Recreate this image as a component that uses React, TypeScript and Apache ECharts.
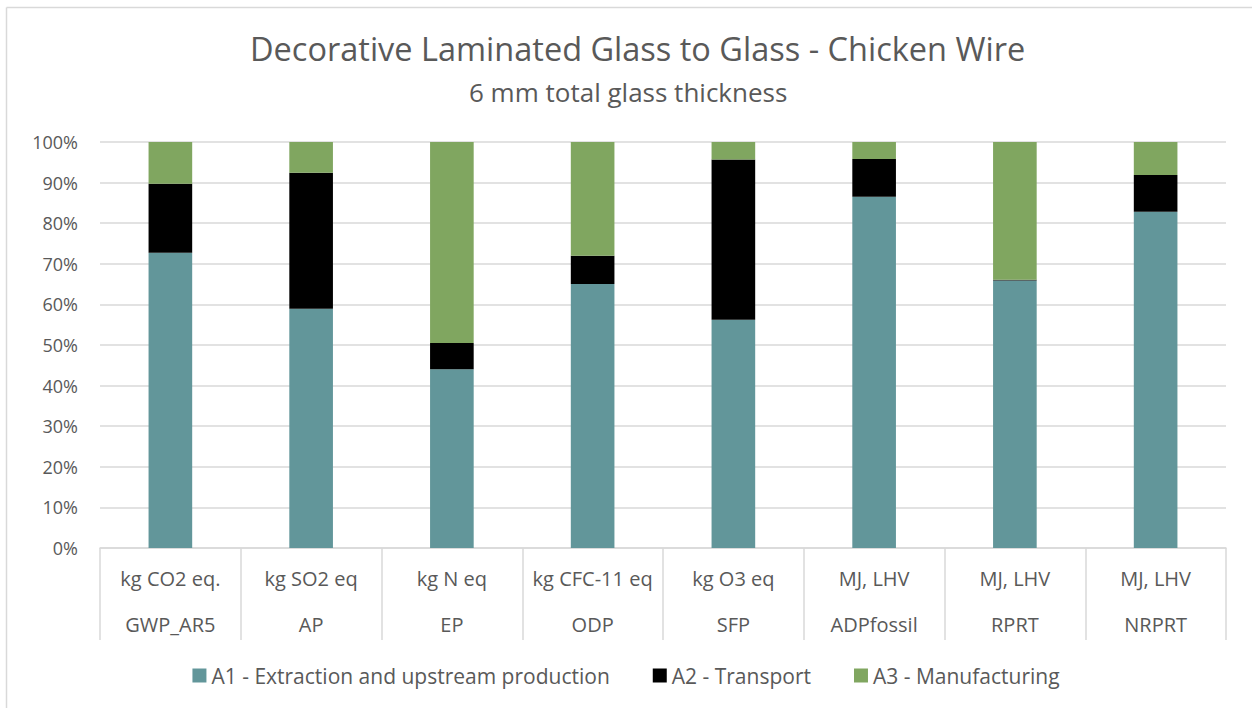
import React, { useEffect, useRef } from "react";
import * as echarts from "echarts";

const units = ["kg CO2 eq.", "kg SO2 eq", "kg N eq", "kg CFC-11 eq", "kg O3 eq", "MJ, LHV", "MJ, LHV", "MJ, LHV"];
const indicators = ["GWP_AR5", "AP", "EP", "ODP", "SFP", "ADPfossil", "RPRT", "NRPRT"];
const a1 = [72.7, 58.9, 44.0, 65.0, 56.2, 86.5, 65.9, 82.8];
const a2 = [17.0, 33.5, 6.5, 7.0, 39.5, 9.3, 0.2, 9.1];
const a3 = [10.3, 7.6, 49.5, 28.0, 4.3, 4.2, 33.9, 8.1];
const seriesNames = ["A1 - Extraction and upstream production", "A2 - Transport", "A3 - Manufacturing"];
const colors = ["#62969A", "#000000", "#80A660"];

const FONT = "Open Sans";
const GREY = "#595959";
const LINE = "#d9d9d9";

export default function App() {
  const ref = useRef<HTMLDivElement>(null);
  useEffect(() => {
    document.body.style.margin = "0";
    const chart = echarts.init(ref.current!, null, { renderer: "svg" });
    const values = [a1, a2, a3];
    chart.setOption({
      animation: false,
      textStyle: { fontFamily: FONT },
      title: [
        {
          text: "Decorative Laminated Glass to Glass - Chicken Wire",
          left: 250,
          top: 32,
          padding: 0,
          textStyle: { fontFamily: FONT, fontSize: 32.5, fontWeight: "normal", color: GREY },
        },
        {
          text: "6 mm total glass thickness",
          left: 469,
          top: 79,
          padding: 0,
          textStyle: { fontFamily: FONT, fontSize: 26, fontWeight: "normal", color: GREY },
        },
      ],
      graphic: [
        { type: "line", shape: { x1: 6.5, y1: 7.5, x2: 6.5, y2: 708 }, style: { stroke: LINE, lineWidth: 1.5 } },
        { type: "line", shape: { x1: 6.5, y1: 7.5, x2: 1252, y2: 7.5 }, style: { stroke: LINE, lineWidth: 1.5 } },
      ],
      legend: {
        bottom: 17,
        left: "center",
        icon: "rect",
        itemWidth: 14,
        itemHeight: 14,
        itemGap: 43,
        textStyle: { fontFamily: FONT, fontSize: 21, color: GREY },
        data: seriesNames,
      },
      grid: { left: 100, right: 26, top: 142, bottom: 160 },
      xAxis: [
        {
          type: "category",
          data: units,
          position: "bottom",
          axisLine: { show: true, lineStyle: { color: LINE, width: 1.5 } },
          axisTick: { show: true, length: 92, interval: 0, lineStyle: { color: LINE, width: 1.5 } },
          axisLabel: { interval: 0, margin: 20, fontFamily: FONT, fontSize: 20, color: GREY },
        },
        {
          type: "category",
          data: indicators,
          position: "bottom",
          axisLine: { show: false },
          axisTick: { show: false },
          axisLabel: { interval: 0, margin: 66, fontFamily: FONT, fontSize: 20, color: GREY },
        },
      ],
      yAxis: {
        type: "value",
        min: 0,
        max: 100,
        interval: 10,
        axisLine: { show: false },
        axisTick: { show: false },
        axisLabel: { margin: 22, fontFamily: FONT, fontSize: 18, color: GREY, formatter: "{value}%" },
        splitLine: { lineStyle: { color: LINE, width: 1.5 } },
      },
      series: seriesNames.map((name, i) => ({
        name,
        type: "bar",
        stack: "total",
        xAxisIndex: 0,
        barWidth: "31%",
        itemStyle: { color: colors[i] },
        data: values[i],
      })),
    });
    return () => chart.dispose();
  }, []);
  return <div ref={ref} style={{ width: 1252, height: 708 }} />;
}
